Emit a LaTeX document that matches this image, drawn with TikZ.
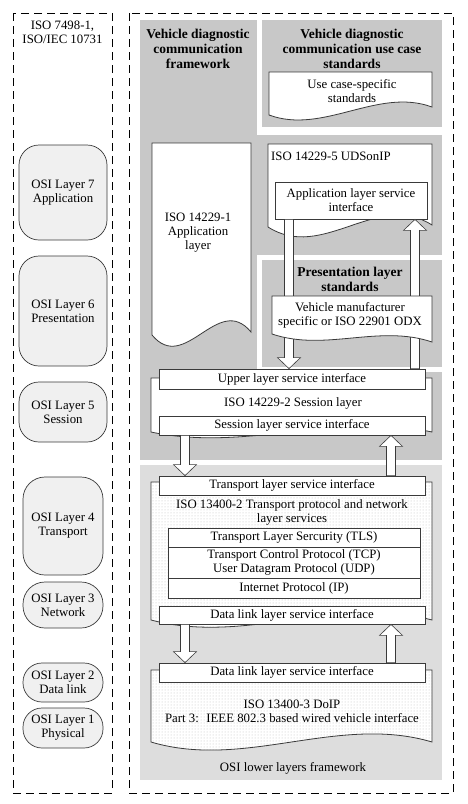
\documentclass[tikz,border=0pt]{standalone}
\usepackage{fontspec}
\setmainfont{Liberation Serif}
\usetikzlibrary{patterns,calc}
\definecolor{darkbg}{HTML}{C8C8C8}
\definecolor{lightbg}{HTML}{DDDDDD}
\definecolor{osifill}{HTML}{F0F0F0}
\definecolor{edgec}{HTML}{3A3A3A}
\newcommand\arrowup[2]{\draw[blockarr] let \p1=(#1), \p2=(#2) in (\x1-4.5,\y1) -- (\x1-4.5,\y2-11) -- (\x1-11.5,\y2-11) -- (\x1,\y2) -- (\x1+11.5,\y2-11) -- (\x1+4.5,\y2-11) -- (\x1+4.5,\y1) -- cycle;}
\newcommand\arrowdn[2]{\draw[blockarr] let \p1=(#1), \p2=(#2) in (\x1-4.5,\y1) -- (\x1-4.5,\y2+11) -- (\x1-11.5,\y2+11) -- (\x1,\y2) -- (\x1+11.5,\y2+11) -- (\x1+4.5,\y2+11) -- (\x1+4.5,\y1) -- cycle;}
\begin{document}
\begin{tikzpicture}[x=1pt,y=-1pt,
  txt/.style={font=\fontsize{12.8}{14}\selectfont, align=center, inner sep=0pt},
  ttl/.style={font=\fontsize{13.5}{15}\selectfont\bfseries, align=center, inner sep=0pt},
  osi/.style={draw=edgec, fill=osifill, line width=0.7pt, rounded corners=#1, font=\fontsize{12.8}{14}\selectfont, align=center, inner sep=0pt},
  ibox/.style={draw=edgec, fill=white, line width=0.8pt, font=\fontsize{12.8}{14}\selectfont, align=center, inner sep=0pt},
  doc/.style={draw=edgec, fill=white, line width=0.8pt},
  dotdoc/.style={draw=edgec, line width=0.8pt, preaction={fill=white}, pattern=dots, pattern color=black!25},
  blockarr/.style={draw=edgec, fill=white, line width=0.6pt},
  dashbox/.style={draw=black, line width=0.8pt, dash pattern=on 8pt off 5pt},
]
\useasboundingbox (0,0) rectangle (467,804);
% outer dashed frames
\draw[dashbox] (13,13) rectangle (112,793);
\draw[dashbox] (129,13) rectangle (453,793);
% gray regions
\fill[darkbg] (140,20) rectangle (257,460);
\fill[darkbg] (257,135) rectangle (442,255);
\fill[darkbg] (140,372) rectangle (442,460);
\fill[darkbg] (262,20) rectangle (442,127);
\fill[darkbg] (262,260) rectangle (442,367);
\fill[lightbg] (140,465) rectangle (442,780);
% left column
\node[txt] (hdr) at (62.5,32.5) {ISO 7498-1,\\ISO/IEC 10731};
\node[osi=20pt, minimum width=88pt, minimum height=95pt] (l7) at (63,192.5) {OSI Layer 7\\Application};
\node[osi=20pt, minimum width=88pt, minimum height=110pt] (l6) at (63,311) {OSI Layer 6\\Presentation};
\node[osi=20pt, minimum width=88pt, minimum height=60pt] (l5) at (63,412) {OSI Layer 5\\Session};
\node[osi=22pt, minimum width=80pt, minimum height=98pt] (l4) at (63,526) {OSI Layer 4\\Transport};
\node[osi=22pt, minimum width=80pt, minimum height=46pt] (l3) at (63,605) {OSI Layer 3\\Network};
\node[osi=19pt, minimum width=80pt, minimum height=39pt] (l2) at (63,682.5) {OSI Layer 2\\Data link};
\node[osi=19pt, minimum width=80pt, minimum height=40pt] (l1) at (63,728) {OSI Layer 1\\Physical};
% titles
\node[ttl] (fwt) at (198,49) {Vehicle diagnostic\\communication\\framework};
\node[ttl] (uct) at (352,48.5) {Vehicle diagnostic\\communication use case\\standards};
% use case doc
\path[doc] (269,72) -- (432,72) -- (432,107) .. controls (377.7,87) and (323.3,135) .. (269,115) -- cycle;
\node[txt] (ucs) at (352,91) {Use case-specific\\standards};
% ISO 14229-1 doc
\path[doc] (152,143) -- (251,143) -- (251,332) .. controls (218,292) and (185,375) .. (152,335) -- cycle;
\node[txt] (app1) at (198,233) {ISO 14229-1\\Application\\layer};
% UDSonIP doc
\path[doc] (268,144) -- (432,144) -- (432,225) .. controls (377.3,190) and (322.7,262) .. (268,227) -- cycle;
\node[txt, anchor=west] (uds) at (271,156) {ISO 14229-5 UDSonIP};
\node[ibox, minimum width=152pt, minimum height=37pt] (ali) at (351,200.5) {Application layer service\\interface};
% presentation
\node[ttl] (prt) at (350,279) {Presentation layer\\standards};
% session boxes (needed for arrows)
\coordinate (colA) at (289,0);
\coordinate (colB) at (415,0);
\coordinate (colC) at (185,0);
\coordinate (colD) at (391,0);
\path[doc] (151,378) -- (432,378) -- (432,432) .. controls (338,412) and (245,452) .. (151,432) -- cycle;
\node[ibox, minimum width=266pt, minimum height=20pt] (uli) at (292,379) {Upper layer service interface};
\arrowdn{ali.south -| colA}{uli.north -| colA}
\arrowup{uli.north -| colB}{ali.south -| colB}
\path[doc] (272,296) -- (432,296) -- (432,342) .. controls (378.7,324) and (325.3,352) .. (272,334) -- cycle;
\node[txt] (odx) at (350,315.5) {Vehicle manufacturer\\specific or ISO 22901 ODX};
\node[txt] (ses) at (293,403) {ISO 14229-2 Session layer};
\node[ibox, minimum width=266pt, minimum height=19pt] (sli) at (292,425.5) {Session layer service interface};
% transport
\path[dotdoc] (151,482) -- (432,482) -- (432,620) .. controls (338,595) and (245,645) .. (151,620) -- cycle;
\node[ibox, minimum width=266pt, minimum height=19pt] (tli) at (292,485.5) {Transport layer service interface};
\arrowdn{sli.south -| colC}{tli.north -| colC}
\arrowup{tli.north -| colD}{sli.south -| colD}
\node[txt] (tpt) at (292,512) {ISO 13400-2 Transport protocol and network\\layer services};
\node[ibox, minimum width=252pt, minimum height=19pt] (tls) at (294,537.5) {Transport Layer Sercurity (TLS)};
\node[ibox, minimum width=252pt, minimum height=31pt] (tcp) at (294,562.5) {Transport Control Protocol (TCP)\\User Datagram Protocol (UDP)};
\node[ibox, minimum width=252pt, minimum height=20pt] (ip) at (294,588) {Internet Protocol (IP)};
\node[ibox, minimum width=266pt, minimum height=18pt] (dl1) at (292,615) {Data link layer service interface};
% DoIP
\path[dotdoc] (151,670) -- (432,670) -- (432,742) .. controls (338,714) and (245,770) .. (151,742) -- cycle;
\node[ibox, minimum width=266pt, minimum height=19pt] (dl2) at (292,672.5) {Data link layer service interface};
\arrowdn{dl1.south -| colC}{dl2.north -| colC}
\arrowup{dl2.north -| colD}{dl1.south -| colD}
\node[txt] (doip) at (292,711.5) {ISO 13400-3 DoIP\\Part 3:~ IEEE 802.3 based wired vehicle interface};
\node[txt] (olf) at (293,768) {OSI lower layers framework};
\end{tikzpicture}
\end{document}
